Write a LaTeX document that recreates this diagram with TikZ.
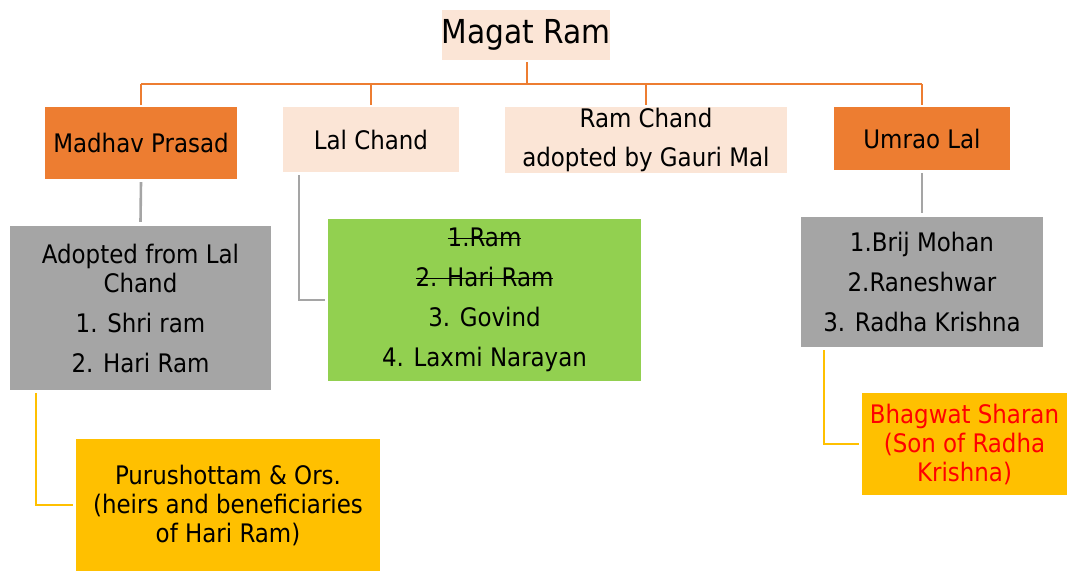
\documentclass[tikz,border=0pt]{standalone}
\usepackage{fontspec}
\setmainfont{DejaVu Sans Condensed}
\definecolor{peach}{HTML}{FBE5D6}
\definecolor{orng}{HTML}{ED7D31}
\definecolor{gry}{HTML}{A5A5A5}
\definecolor{grn}{HTML}{92D050}
\definecolor{ylw}{HTML}{FFC000}
\definecolor{rd}{HTML}{FF0000}
\newcommand\strk[1]{\setbox0\hbox{#1}\rlap{\rule[0.3em]{\wd0}{1.2pt}}\box0}
\begin{document}
\begin{tikzpicture}[x=1pt,y=-1pt,
  box/.style={inner sep=0pt, align=center, font=\fontsize{25.5}{29}\selectfont},
  oc/.style={draw=orng, line width=2.6pt},
  gc/.style={draw=gry, line width=2.6pt},
  yc/.style={draw=ylw, line width=2.6pt}]
\useasboundingbox (0,0) rectangle (1067,570);
\node[box, fill=peach, minimum width=162pt, minimum height=50pt, font=\fontsize{33}{38}\selectfont] (magat) at (526,35) {Magat Ram};
\node[box, fill=orng, minimum width=192pt, minimum height=72pt] (mad) at (141,143) {Madhav Prasad};
\node[box, fill=peach, minimum width=176pt, minimum height=65pt] (lal) at (371,139.5) {Lal Chand};
\node[box, fill=peach, minimum width=282pt, minimum height=66pt] (ram) at (646,140) {Ram Chand\\[10pt]adopted by Gauri Mal};
\node[box, fill=orng, minimum width=176pt, minimum height=63pt] (umr) at (922,138.5) {Umrao Lal};
\node[box, fill=gry, minimum width=261pt, minimum height=164pt] (adopt) at (140.5,308) {Adopted from Lal\\Chand\\[11pt]1. Shri ram\\[11pt]2. Hari Ram};
\node[box, fill=grn, minimum width=313pt, minimum height=162pt] (green) at (484.5,300) {\strk{1.Ram}\\[11pt]\strk{2. Hari Ram}\\[11pt]3. Govind\\[11pt]4. Laxmi Narayan};
\node[box, fill=gry, minimum width=242pt, minimum height=130pt] (rgray) at (922,282) {1.Brij Mohan\\[11pt]2.Raneshwar\\[11pt]3. Radha Krishna};
\node[box, fill=ylw, minimum width=205pt, minimum height=102pt, text=rd] (bhag) at (964.5,444) {Bhagwat Sharan\\(Son of Radha\\Krishna)};
\node[box, fill=ylw, minimum width=304pt, minimum height=133pt] (pur) at (228,505) {Purushottam \& Ors.\\(heirs and beneficiaries\\of Hari Ram)};
% orange tree
\coordinate (bus) at (527,84);
\coordinate (busl) at (141,84);
\coordinate (busr) at (922,84);
\draw[oc] ([yshift=-2pt]magat.south -| bus) -- (bus);
\draw[oc] (busl) -- (busr);
\draw[oc] (busl) -- ([yshift=2pt]mad.north);
\draw[oc] (lal.north |- bus) -- ([yshift=2pt]lal.north);
\draw[oc] (ram.north |- bus) -- ([yshift=2pt]ram.north);
\draw[oc] (busr) -- ([yshift=2pt]umr.north);
% gray
\draw[gc] ([yshift=-3pt]mad.south) -- ([yshift=4pt]adopt.north);
\coordinate (lc) at (299,175);
\draw[gc] (lc) |- ([xshift=-3pt]green.west);
\draw[gc] ([yshift=-3pt]umr.south) -- ([yshift=4pt]rgray.north);
% yellow
\coordinate (ya) at (36,393);
\draw[yc] (ya) |- ([xshift=-3pt]pur.west);
\coordinate (yb) at (824,350);
\draw[yc] (yb) |- ([xshift=-3pt]bhag.west);
\end{tikzpicture}
\end{document}
